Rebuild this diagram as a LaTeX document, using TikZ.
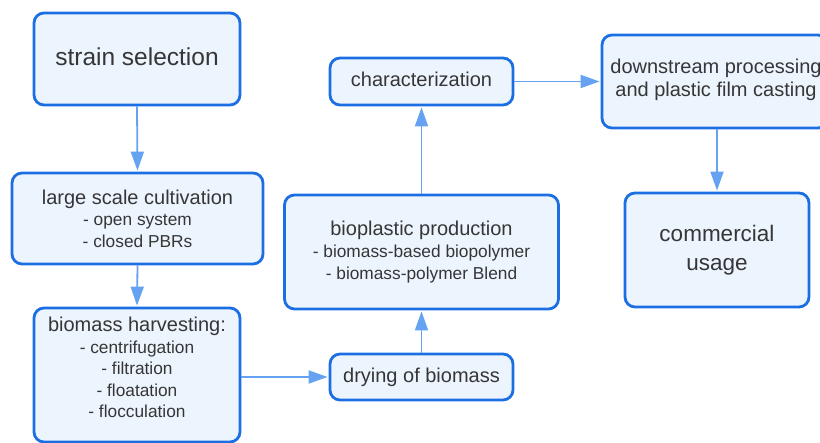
\documentclass[tikz,border=0pt]{standalone}
\usepackage{fontspec}
\setmainfont{Liberation Sans}
\usetikzlibrary{arrows.meta}
\definecolor{boxborder}{HTML}{1C6FE3}
\definecolor{boxfill}{HTML}{ECF4FE}
\definecolor{arrowblue}{HTML}{65A3F2}
\definecolor{txtgray}{HTML}{363636}
\newcommand{\ttlfont}{\fontsize{20}{23}\selectfont}
\newcommand{\subfont}{\fontsize{17.3}{21.6}\selectfont}
\tikzset{
  procbox/.style={draw=boxborder, line width=2.8pt, fill=boxfill, rounded corners=10pt,
    inner sep=0pt, text=txtgray, align=center},
  txtlbl/.style={text=txtgray, align=center, inner sep=0pt},
  flow/.style={draw=arrowblue, line width=1.8pt, -{Triangle[length=19pt,width=13pt]}, shorten >=1pt},
}
\begin{document}
\begin{tikzpicture}[x=1pt,y=-1pt]
\useasboundingbox[fill=white] (0,0) rectangle (820,443);
% boxes
\node[procbox, minimum width=206pt, minimum height=92pt] (strain) at (137,59) {};
\node[txtlbl, font=\fontsize{24.5}{28}\selectfont] (straintxt) at (137,57) {strain selection};
\node[procbox, minimum width=251pt, minimum height=91pt, font=\subfont] (cult) at (137.5,218.5)
  {{\ttlfont large scale cultivation}\\- open system\\- closed PBRs};
\node[procbox, minimum width=206pt, minimum height=134pt] (harv) at (137,375) {};
\node[txtlbl, font=\subfont] (harvtxt) at (137,367.5)
  {{\ttlfont biomass harvesting:}\\- centrifugation\\- filtration\\- floatation\\- flocculation};
\node[procbox, minimum width=183pt, minimum height=46pt, font=\ttlfont] (dry) at (421.5,377) {drying of biomass};
\node[procbox, minimum width=274pt, minimum height=114pt, font=\subfont] (bio) at (421.5,252)
  {{\ttlfont bioplastic production}\\- biomass-based biopolymer\\- biomass-polymer Blend};
\node[procbox, minimum width=183pt, minimum height=47pt] (char) at (421.5,81.5) {};
\node[txtlbl, font=\ttlfont] (chartxt) at (421.5,79.5) {characterization};
\node[procbox, minimum width=226pt, minimum height=93pt] (down) at (715,81.5) {};
\node[txtlbl, font=\fontsize{20}{23}\selectfont] (downtxt) at (716,80) {downstream processing\\and plastic film casting};
\node[procbox, minimum width=184pt, minimum height=114pt, font=\fontsize{22.5}{29}\selectfont] (comm) at (717,250) {commercial\\usage};
% connectors
\draw[flow] (strain.south) -- (cult.north);
\draw[flow] (cult.south) -- (harv.north);
\draw[flow] (harv.east |- dry.west) -- (dry.west);
\draw[flow] (dry.north) -- (bio.south);
\draw[flow] (bio.north) -- (char.south);
\draw[flow] (char.east) -- (down.west |- char.east);
\draw[flow] (comm.north |- down.south) -- (comm.north);
\end{tikzpicture}
\end{document}
